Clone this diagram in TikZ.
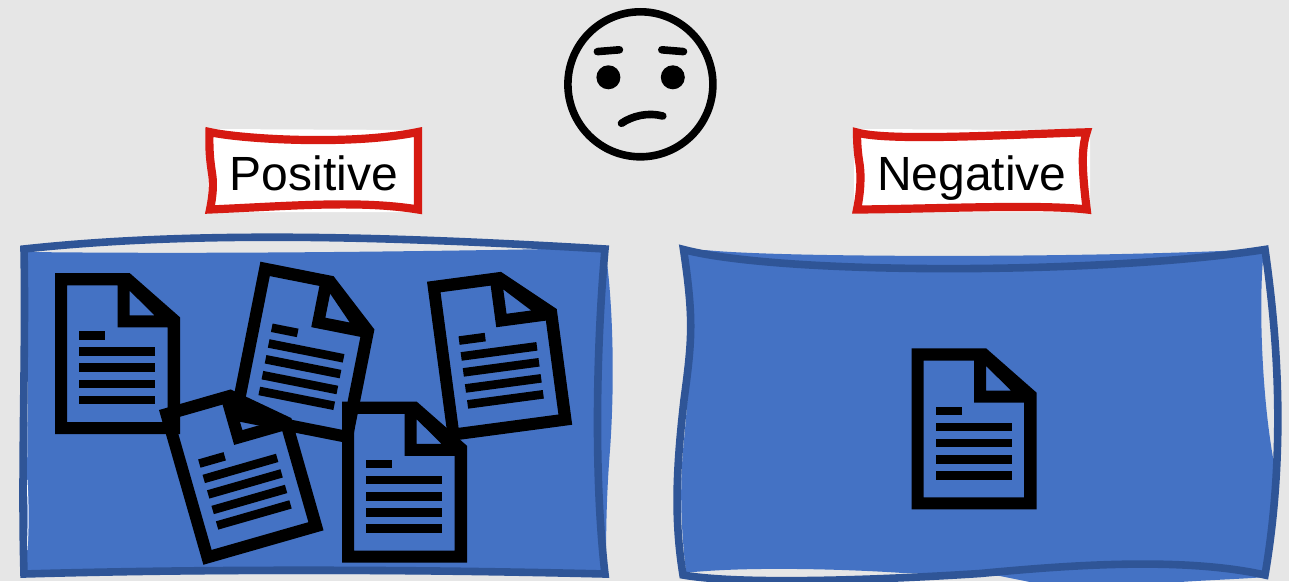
\documentclass[tikz,border=0pt]{standalone}
\usepackage{fontspec}
\setmainfont{Liberation Sans}
\definecolor{bgc}{HTML}{E6E6E6}
\definecolor{boxfill}{HTML}{4472C4}
\definecolor{boxline}{HTML}{2F5597}
\definecolor{tagline}{HTML}{D61A12}
\tikzset{
  bluefill/.style={fill=boxfill,draw=none},
  blueline/.style={draw=boxline,line width=7.6pt,miter limit=10},
  tagfill/.style={fill=white,draw=none},
  tagline/.style={draw=tagline,line width=8.2pt,miter limit=10},
  tagtext/.style={font=\fontsize{48}{50}\selectfont,inner sep=0pt,anchor=base west,text=black},
  faceline/.style={draw=black,line width=7.6pt,line cap=round},
  pics/docicon/.style={code={
    \fill[black,even odd rule]
      (0,0) -- (74.6,0) -- (125,44.3) -- (125,161) -- (0,161) -- cycle
      (12,12.3) -- (62.6,12.3) -- (62.6,54.3) -- (112.7,54.3) -- (112.7,149) -- (12,149) -- cycle
      (74.6,17.7) -- (99.5,42.3) -- (74.6,42.3) -- cycle;
    \fill[black] (24,58.3) rectangle (50.4,66.9);
    \fill[black] (24,74.3) rectangle (100.4,82.9);
    \fill[black] (24,90.4) rectangle (100.4,99);
    \fill[black] (24,106.6) rectangle (100.4,115.2);
    \fill[black] (24,122.7) rectangle (100.4,131.3);
  }}
}
\begin{document}
\begin{tikzpicture}[x=1pt,y=-1pt]
\useasboundingbox (0,0) rectangle (1289,581);
\fill[bgc] (0,0) rectangle (1289,581);

% face
\draw[faceline] (640.4,84.3) circle (72.5);
\fill[black] (608.4,77.3) circle (12);
\fill[black] (672.8,77.3) circle (12);
\draw[faceline] (597.4,51.6) -- (619.4,49.8);
\draw[faceline] (661.8,49.8) -- (683.5,51.6);
\draw[faceline] (621.5,123.3) .. controls (632,116) and (648,112) .. (662.8,116);

% left tag
\fill[tagfill] (208,129) -- (420,130) -- (420,212) -- (208,212) -- cycle;
\draw[tagline] (209.5,132) .. controls (240,139) and (350,146) .. (418,132)
  -- (418,209.5) .. controls (360,200) and (290,206) .. (210,209.5)
  .. controls (214,190) and (213,180) .. (212,173) .. controls (210,160) and (209,150) .. (209.5,132) -- cycle;
\node[tagtext] (pos) at (229.5,190.5) {Positive};

% right tag
\fill[tagfill] (854,129) -- (1090,130) -- (1090,212) -- (854,212) -- cycle;
\draw[tagline] (857,132.5) .. controls (890,142) and (1020,134) .. (1086.7,132.3)
  .. controls (1081,150) and (1082,170) .. (1086.7,209.5)
  .. controls (1040,204) and (930,209) .. (857,209.5)
  .. controls (861,190) and (861,175) .. (859.7,165) .. controls (858,155) and (857,145) .. (857,132.5) -- cycle;
\node[tagtext] (neg) at (877,190.5) {Negative};

% left box
\fill[bluefill] (28,252) .. controls (200,254) and (400,252) .. (605,248)
  .. controls (613,300) and (615,380) .. (610,450) .. controls (606,500) and (606,540) .. (606,574)
  -- (26,574) .. controls (27,500) and (28,400) .. (28,252) -- cycle;
\draw[white,line width=1pt] (27,550) .. controls (29,520) and (28,500) .. (27,480);
\draw[blueline] (24,249) .. controls (200,230) and (400,237) .. (605,249)
  .. controls (596,350) and (594,480) .. (605,574)
  .. controls (400,569) and (200,569) .. (24,574)
  .. controls (21,470) and (26,350) .. (24,249) -- cycle;
\pic at (55,273) {docicon};
\pic[shift={(260.4,261.7)},rotate=-11.2] {docicon};
\pic[shift={(427,281.7)},rotate=7.6] {docicon};
\pic[shift={(159,410)},rotate=16] {docicon};
\pic at (342,401.5) {docicon};

% right box
\fill[bluefill] (686,250) -- (705,250) .. controls (780,258) and (1100,258) .. (1264,249)
  .. controls (1258,300) and (1262,400) .. (1274,463)
  .. controls (1276,500) and (1272,540) .. (1266,577)
  .. controls (1240,579) and (1210,580) .. (1180,582)
  -- (1030,582) -- (1000,576) -- (903,573)
  .. controls (860,570) and (760,566) .. (694,572)
  -- (686,572) .. controls (680,520) and (680,480) .. (684,440)
  .. controls (690,380) and (692,320) .. (686,250) -- cycle;
\draw[blueline] (683.5,249.5) .. controls (780,275) and (1100,275) .. (1265,249.5)
  .. controls (1275,320) and (1288,440) .. (1265,575)
  .. controls (1180,556) and (1060,566) .. (980,573.5)
  .. controls (880,580) and (740,585) .. (683,575)
  .. controls (674,520) and (676,470) .. (684,400)
  .. controls (692,340) and (694,320) .. (683.5,249.5) -- cycle;
\pic at (911.5,348.3) {docicon};
\end{tikzpicture}
\end{document}
